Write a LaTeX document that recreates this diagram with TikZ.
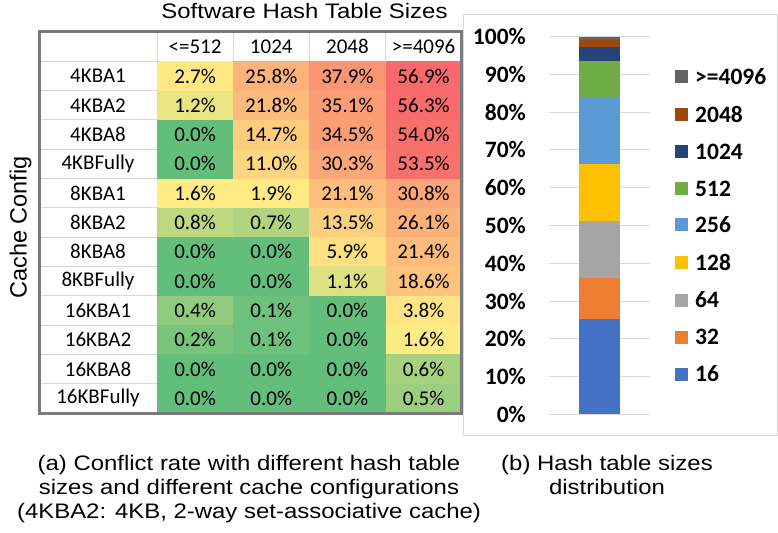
\documentclass[tikz,border=0pt]{standalone}
\usepackage{fontspec}
\setmainfont{Carlito}
\newfontfamily\arialfont{Liberation Sans}
\newfontfamily\widefont[FakeStretch=1.14]{Liberation Sans}

% colour scale of the heat map
\definecolor{hgrn}{HTML}{63BE7B}
\definecolor{hyel}{HTML}{FFEB84}
\definecolor{hred}{HTML}{F8696B}
\definecolor{gridc}{HTML}{D9D9D9}
\definecolor{framec}{HTML}{7A7A7A}
% series colours of the stacked bar
\definecolor{s16}{HTML}{4472C4}
\definecolor{s32}{HTML}{ED7D31}
\definecolor{s64}{HTML}{A5A5A5}
\definecolor{s128}{HTML}{FFC000}
\definecolor{s256}{HTML}{5B9BD5}
\definecolor{s512}{HTML}{70AD47}
\definecolor{s1024}{HTML}{264478}
\definecolor{s2048}{HTML}{9E480E}
\definecolor{s4096}{HTML}{636363}

% green -> yellow (median 1.4) -> red (max 56.9)
\newcommand\heatcolor[1]{%
  \pgfmathsetmacro\hval{#1}%
  \pgfmathtruncatemacro\hlow{\hval<=1.4}%
  \ifnum\hlow=1
    \pgfmathsetmacro\hpct{\hval/1.4*100}%
    \colorlet{heatc}{hyel!\hpct!hgrn}%
  \else
    \pgfmathsetmacro\hpct{min(100,(\hval-1.4)/55.5*100)}%
    \colorlet{heatc}{hred!\hpct!hyel}%
  \fi}

\begin{document}
\begin{tikzpicture}[x={(1bp,0)},y={(0,-1bp)},
  tabfont/.style={font=\fontsize{21bp}{25bp}\selectfont},
  heatcell/.style={tabfont,minimum width=76.17bp,minimum height=29.31bp,inner sep=0,outer sep=0},
  rowlabel/.style={tabfont,inner sep=0},
  hdr/.style={tabfont,inner sep=0},
  axlab/.style={font=\bfseries\fontsize{23.5bp}{27bp}\selectfont,inner sep=0,anchor=east},
  legtxt/.style={font=\bfseries\fontsize{23.5bp}{27bp}\selectfont,inner sep=0,anchor=west},
  swatch/.style={minimum size=13bp,inner sep=0,outer sep=0},
  gridline/.style={draw=gridc,line width=1bp},
  caption/.style={font=\widefont\fontsize{21bp}{24bp}\selectfont,align=center,inner sep=0}]

\useasboundingbox (0,0) rectangle (778,533);
\fill[white] (0,0) rectangle (778,533);

% ---------- heat map table ----------
\node[anchor=base,font=\widefont\fontsize{21bp}{25bp}\selectfont,inner sep=0] (title) at (304.5,18.3) {Software Hash Table Sizes};
\node[rotate=90,font=\arialfont\fontsize{23.5bp}{27bp}\selectfont,inner sep=0] (ylab) at (20.5,227.5) {Cache Config};

\foreach \hd [count=\ci] in {<=512,1024,2048,>=4096}{
  \pgfmathsetmacro\xc{157+(\ci-0.5)*76.17}
  \node[hdr] (h-\ci) at (\xc,46.65) {\hd};
}

\foreach \lab/\va/\vb/\vc/\vd [count=\ri] in {
  4KBA1/2.7/25.8/37.9/56.9,
  4KBA2/1.2/21.8/35.1/56.3,
  4KBA8/0.0/14.7/34.5/54.0,
  4KBFully/0.0/11.0/30.3/53.5,
  8KBA1/1.6/1.9/21.1/30.8,
  8KBA2/0.8/0.7/13.5/26.1,
  8KBA8/0.0/0.0/5.9/21.4,
  8KBFully/0.0/0.0/1.1/18.6,
  16KBA1/0.4/0.1/0.0/3.8,
  16KBA2/0.2/0.1/0.0/1.6,
  16KBA8/0.0/0.0/0.0/0.6,
  16KBFully/0.0/0.0/0.0/0.5}{
  \pgfmathsetmacro\yc{32+(\ri+0.5)*29.31}
  \node[rowlabel] (lab-\ri) at (98,\yc) {\lab};
  \foreach \val [count=\ci] in {\va,\vb,\vc,\vd}{
    \heatcolor{\val}
    \pgfmathsetmacro\xc{157+(\ci-0.5)*76.17}
    \node[heatcell,fill=heatc] (cell-\ri-\ci) at (\xc,\yc) {\val\%};
  }
}

% light grid in the white cells
\foreach \k in {1,...,12}{
  \draw[gridline] (39,{32+\k*29.31}) -- (157,{32+\k*29.31});
}
\foreach \k in {0,...,3}{
  \draw[gridline] ({157+\k*76.17},32) -- ({157+\k*76.17},61.31);
}
% outer frame
\draw[framec,line width=3bp] (39,32) rectangle (461.7,413);

% ---------- stacked bar chart ----------
\draw[gridc,line width=1bp] (463.5,15) rectangle (777.5,435);
\foreach \p in {0,10,...,100}{
  \draw[gridline] (549,{414.3-\p*3.776}) -- (650,{414.3-\p*3.776});
  \node[axlab] (ax-\p) at (526,{414.3-\p*3.776}) {\p\%};
}
\foreach \lo/\hi/\col in {0/25.3/s16,25.3/36.2/s32,36.2/51.1/s64,51.1/66.2/s128,
  66.2/84.0/s256,84.0/93.6/s512,93.6/97.3/s1024,97.3/99.2/s2048,99.2/100/s4096}{
  \fill[\col] (579,{414.3-\lo*3.776}) rectangle (620,{414.3-\hi*3.776});
}
\foreach \lab/\col/\yy [count=\i] in {>=4096/s4096/76.7,2048/s2048/114.3,1024/s1024/151.7,
  512/s512/189,256/s256/225,128/s128/262.7,64/s64/300,32/s32/337,16/s16/374}{
  \node[swatch,fill=\col] (sw-\i) at (681.5,\yy) {};
  \node[legtxt] (lt-\i) at (695,\yy) {\lab};
}

% ---------- captions ----------
\node[caption,anchor=north] (capa) at (249,455) {(a) Conflict rate with different hash table\\sizes and different cache configurations\\(4KBA2: 4KB, 2-way set-associative cache)};
\node[caption,anchor=north] (capb) at (607,455) {(b) Hash table sizes\\distribution};
\end{tikzpicture}
\end{document}
